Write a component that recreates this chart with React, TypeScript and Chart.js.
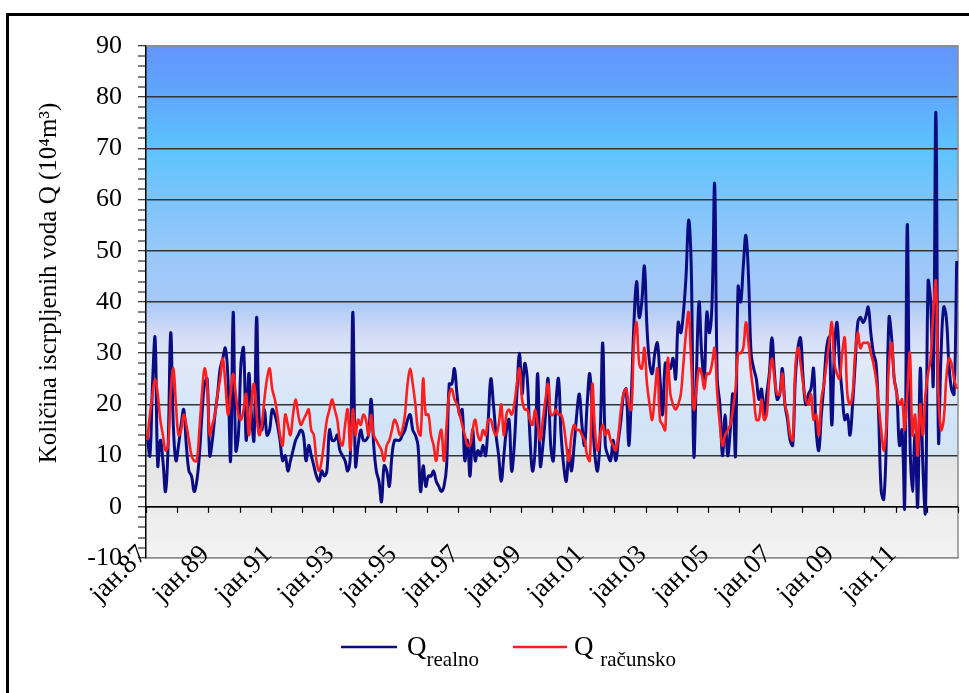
import { useEffect, useRef } from 'react';
import { Chart, registerables } from 'chart.js';

Chart.register(...registerables);

// ---- categories (monthly, jan 1987 – dec 2012) ----
const yearLabels = ['87', '88', '89', '90', '91', '92', '93', '94', '95', '96', '97', '98', '99',
  '00', '01', '02', '03', '04', '05', '06', '07', '08', '09', '10', '11', '12'];
const monthNames = ['јан', 'феб', 'мар', 'апр', 'мај', 'јун', 'јул', 'авг', 'сеп', 'окт', 'нов', 'дец'];
const categories: string[] = yearLabels.flatMap((y) => monthNames.map((m) => `${m}.${y}`));
const labelEvery = 24; // a tick label every second January
const yearTickEvery = 12;

// ---- y axis ----
const yMin = -10;
const yMax = 90;
const yMajor = 10;
const yMinor = 2;
const yTitle = 'Količina iscrpljenih voda Q (10⁴m³)';

// ---- series ----
const qRealno = [
  14, 10, 24, 33, 8, 13, 9, 3, 12, 34, 16, 9,
  12, 16, 19, 12, 7, 6, 3, 5, 10, 18, 24, 25,
  10, 13, 18, 22, 27, 29, 31, 25, 9, 38, 11, 14,
  28, 31, 13, 26, 18, 13, 37, 17, 15, 19, 14, 15,
  19, 18, 16, 13, 9, 10, 7, 9, 11, 13, 14, 15,
  14, 9, 12, 10, 8, 6, 5, 7, 6, 7, 15, 13,
  13, 14, 11, 10, 9, 7, 10, 38, 8, 12, 15, 13,
  13, 14, 21, 12, 7, 5, 1, 8, 7, 4, 10, 13,
  13, 13, 14, 15, 17, 18, 15, 14, 12, 3, 8, 4,
  6, 6, 7, 5, 4, 3, 4, 8, 24, 24, 27, 22,
  18, 19, 9, 13, 6, 15, 9, 11, 10, 12, 10, 17,
  25, 20, 14, 10, 5, 10, 15, 17, 7, 12, 22, 30,
  22, 28, 25, 14, 7, 11, 26, 8, 12, 18, 25, 12,
  9, 20, 25, 14, 8, 5, 11, 7, 12, 18, 22, 16,
  12, 20, 26, 18, 10, 7, 14, 32, 12, 10, 9, 13,
  9, 13, 17, 22, 23, 12, 22, 36, 44, 37, 40, 47,
  35, 28, 26, 30, 32, 25, 18, 28, 28, 27, 29, 25,
  36, 34, 38, 45, 56, 47, 10, 26, 40, 30, 25, 38,
  34, 40, 63, 25, 20, 10, 18, 10, 15, 22, 10, 43,
  40, 47, 53, 45, 30, 27, 25, 21, 23, 18, 22, 26,
  33, 26, 21, 22, 27, 20, 17, 13, 12, 25, 31, 33,
  25, 20, 22, 23, 27, 15, 11, 18, 24, 31, 33, 16,
  30, 36, 28, 22, 17, 18, 14, 20, 28, 36, 37, 36,
  37, 39, 34, 30, 28, 18, 3, 1.5, 14, 37, 33, 25,
  22, 12, 15, 0, 55, 14, 3, 14, 0, 27, 8, -1,
  44, 40, 24, 77, 13, 30, 39, 37, 28, 23, 22, 48,
];

const qRacunsko = [
  13, 18, 22, 25, 22, 17, 14, 11, 12, 22, 27, 20,
  14, 15, 18, 16, 13, 10, 9, 9, 15, 22, 27, 24,
  14, 16, 18, 22, 25, 29, 24, 18, 22, 26, 22, 18,
  17, 19, 22, 14, 20, 24, 18, 14, 16, 21, 25, 27,
  23, 21, 18, 14, 12, 18, 16, 14, 18, 21, 18, 16,
  17, 18, 19, 15, 14, 9, 7, 9, 13, 17, 19, 21,
  19, 17, 13, 12, 16, 19, 11, 19, 14, 17, 16, 18,
  17, 14, 18, 14, 13, 12, 11, 9, 12, 13, 15, 17,
  16, 14, 15, 18, 24, 27, 24, 20, 15, 14, 25, 18,
  18, 14, 12, 9, 13, 15, 9, 16, 22, 23, 21, 20,
  18, 16, 14, 12, 12, 15, 17, 14, 13, 15, 14, 17,
  17, 15, 14, 16, 20, 14, 18, 19, 18, 20, 24, 27,
  21, 19, 19, 17, 16, 19, 16, 13, 17, 21, 24, 18,
  18, 19, 18, 18, 16, 12, 9, 14, 16, 15, 15, 14,
  13, 10, 9, 24, 15, 11, 14, 16, 14, 15, 13, 12,
  11, 14, 19, 22, 23, 20, 19, 32, 36, 28, 27, 31,
  24, 20, 17, 22, 27, 17, 16, 15, 29, 22, 20, 19,
  20, 22, 28, 34, 38, 28, 19, 23, 27, 26, 23, 26,
  26, 28, 31, 22, 16, 12, 14, 15, 16, 19, 23, 30,
  30, 31, 36, 32, 26, 22, 17, 17, 21, 17, 18, 25,
  29, 25, 22, 22, 26, 20, 18, 14, 13, 27, 31, 28,
  24, 21, 20, 22, 17, 18, 14, 21, 24, 28, 32, 36,
  28, 26, 25, 30, 33, 22, 20, 22, 30, 34, 31, 32,
  32, 32, 30, 28, 25, 20, 15, 11, 16, 28, 32, 25,
  22, 20, 21, 15, 22, 30, 14, 18, 10, 20, 14, 22,
  26, 29, 38, 44, 22, 15, 17, 25, 29, 28, 25, 23,
];

const legendItems = [
  { main: 'Q', sub: 'realno', color: '#0c0c82' },
  { main: 'Q ', sub: 'računsko', color: '#ff1e1e' },
];

const FONT = "'Liberation Serif', 'Times New Roman', serif";

const bgPlugin = {
  id: 'bgGradient',
  beforeDraw(chart: any) {
    const { ctx, chartArea: a } = chart;
    if (!a) return;
    const g = ctx.createLinearGradient(0, a.top, 0, a.bottom);
    g.addColorStop(0.0, '#6494fc');
    g.addColorStop(0.1, '#5fa8fd');
    g.addColorStop(0.2, '#5cc4fc');
    g.addColorStop(0.3, '#7cc4fc');
    g.addColorStop(0.4, '#98c8fa');
    g.addColorStop(0.5, '#a8c9f6');
    g.addColorStop(0.56, '#d2dbf6');
    g.addColorStop(0.62, '#e2e9f8');
    g.addColorStop(0.74, '#d0e4f8');
    g.addColorStop(0.795, '#d4e4f2');
    g.addColorStop(0.81, '#e4e4e4');
    g.addColorStop(1.0, '#f3f3f3');
    ctx.save();
    ctx.fillStyle = g;
    ctx.fillRect(a.left, a.top, a.right - a.left, a.bottom - a.top);
    ctx.restore();
  },
};

const axisPlugin = {
  id: 'zeroAxis',
  beforeDatasetsDraw(chart: any) {
    const { ctx, chartArea: a, scales } = chart;
    const y0 = scales.y.getPixelForValue(0);
    const w = (a.right - a.left) / categories.length;
    ctx.save();
    ctx.strokeStyle = '#8c8c8c';
    ctx.lineWidth = 1.5;
    ctx.beginPath();
    ctx.moveTo(a.left, a.top);
    ctx.lineTo(a.right, a.top);
    ctx.lineTo(a.right, a.bottom);
    ctx.stroke();
    ctx.strokeStyle = '#000';
    ctx.lineWidth = 1.5;
    ctx.beginPath();
    ctx.moveTo(a.left, y0);
    ctx.lineTo(a.right, y0);
    ctx.stroke();
    ctx.lineWidth = 1.2;
    for (let i = 0; i <= categories.length; i += yearTickEvery) {
      const x = Math.round(a.left + i * w) + 0.5;
      ctx.beginPath();
      ctx.moveTo(x, y0);
      ctx.lineTo(x, y0 + 6);
      ctx.stroke();
    }
    ctx.restore();
  },
};

const textPlugin = {
  id: 'texts',
  afterDraw(chart: any) {
    const { ctx, scales } = chart;

    // category labels (rotated 45°, reaching up over the plot's bottom edge)
    ctx.save();
    ctx.fillStyle = '#000';
    ctx.font = `27px ${FONT}`;
    ctx.textAlign = 'right';
    ctx.textBaseline = 'top';
    for (let i = 0; i < categories.length; i += labelEvery) {
      const x = scales.x.getPixelForValue(i);
      ctx.save();
      ctx.translate(x - 14, 541);
      ctx.rotate(-Math.PI / 4);
      ctx.fillText(categories[i], 0, 0);
      ctx.restore();
    }
    ctx.restore();

    // y-axis title
    ctx.save();
    ctx.translate(49, 283);
    ctx.rotate(-Math.PI / 2);
    ctx.fillStyle = '#000';
    ctx.font = `25px ${FONT}`;
    ctx.textAlign = 'center';
    ctx.textBaseline = 'middle';
    ctx.fillText(yTitle, 0, 0);
    ctx.restore();

    // legend
    const positions = [
      { x1: 341, x2: 397, tx: 407 },
      { x1: 513, x2: 567, tx: 574 },
    ];
    const ly = 647;
    ctx.save();
    legendItems.forEach((it, i) => {
      const p = positions[i];
      ctx.strokeStyle = it.color;
      ctx.lineWidth = 2.5;
      ctx.beginPath();
      ctx.moveTo(p.x1, ly);
      ctx.lineTo(p.x2, ly);
      ctx.stroke();
      ctx.fillStyle = '#000';
      ctx.textBaseline = 'alphabetic';
      ctx.textAlign = 'left';
      ctx.font = `27px ${FONT}`;
      ctx.fillText(it.main, p.tx, 655);
      const mw = ctx.measureText(it.main).width;
      ctx.font = `21px ${FONT}`;
      ctx.fillText(it.sub, p.tx + mw, 666);
    });
    ctx.restore();
  },
};

export default function App() {
  const ref = useRef<HTMLCanvasElement | null>(null);

  useEffect(() => {
    if (!ref.current) return;
    const chart = new Chart(ref.current, {
      type: 'line',
      data: {
        labels: categories,
        datasets: [
          {
            label: 'Q realno',
            data: qRealno,
            borderColor: '#0c0c82',
            borderWidth: 3,
            pointRadius: 0,
            tension: 0.4,
            fill: false,
            order: 2,
          },
          {
            label: 'Q računsko',
            data: qRacunsko,
            borderColor: '#ff1e1e',
            borderWidth: 2.6,
            pointRadius: 0,
            tension: 0.4,
            fill: false,
            order: 1,
          },
        ],
      },
      options: {
        responsive: false,
        animation: false,
        devicePixelRatio: 1,
        events: [],
        layout: { padding: { left: 33, top: 46, right: 11, bottom: 0 } },
        plugins: {
          legend: { display: false },
          tooltip: { enabled: false },
        },
        scales: {
          x: {
            type: 'category',
            offset: true,
            grid: { display: false, drawTicks: false },
            border: { display: true, color: '#8c8c8c', width: 1.5 },
            ticks: { display: false },
            afterFit: (s: any) => {
              s.height = 135;
            },
          },
          y: {
            min: yMin,
            max: yMax,
            title: { display: false },
            ticks: {
              stepSize: yMinor,
              autoSkip: false,
              padding: 16,
              color: '#000',
              font: { family: FONT, size: 26 },
              callback: (v: any) => (Number(v) % yMajor === 0 ? String(v) : ''),
            },
            grid: {
              drawTicks: true,
              tickLength: 8,
              tickColor: '#000',
              tickWidth: 1,
              color: (c: any) => {
                const v = c.tick ? c.tick.value : 0;
                if (v === yMin || v === yMax) return '#8c8c8c';
                return v % yMajor === 0 ? '#303438' : 'rgba(0,0,0,0)';
              },
              lineWidth: (c: any) => {
                const v = c.tick ? c.tick.value : 0;
                return v % yMajor === 0 ? 1.5 : 0;
              },
            },
            border: { display: true, color: '#000', width: 1.5 },
            afterFit: (s: any) => {
              s.width = 113;
            },
          },
        },
      },
      plugins: [bgPlugin, axisPlugin, textPlugin],
    });
    return () => chart.destroy();
  }, []);

  return (
    <div style={{ position: 'fixed', left: 0, top: 0, width: 969, height: 693, overflow: 'hidden', background: '#fff' }}>
      <div
        style={{
          position: 'absolute',
          left: 6,
          top: 13,
          width: 1000,
          height: 1000,
          border: '3px solid #000',
          boxSizing: 'border-box',
        }}
      />
      <canvas
        ref={ref}
        width={969}
        height={693}
        style={{ position: 'absolute', left: 0, top: 0, width: 969, height: 693 }}
      />
    </div>
  );
}
